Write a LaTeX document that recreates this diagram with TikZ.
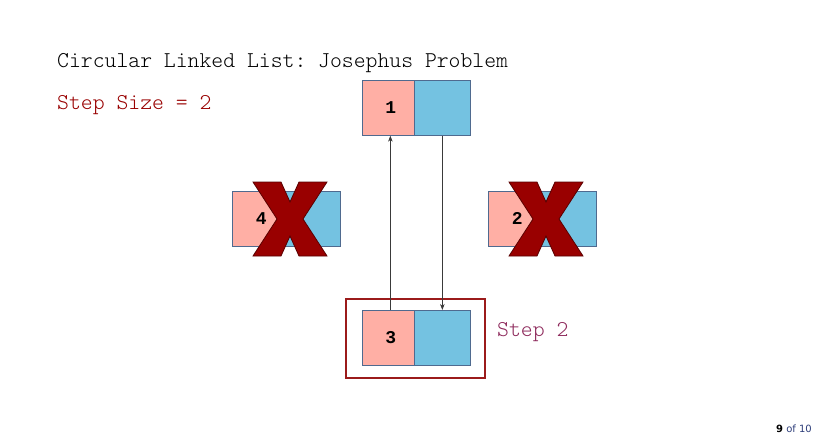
\documentclass[tikz,border=0pt]{standalone}
\usepackage{fontspec}
\usetikzlibrary{arrows.meta}
\setmonofont{Latin Modern Mono Light}
\newfontfamily\digitfont{Liberation Mono}
\newfontfamily\pgfont{DejaVu Sans}
\begin{document}
\begin{tikzpicture}[x=1pt,y=-1pt,
  pinkcell/.style={draw=cellborder,fill=cellpink,line width=0.7pt,minimum width=52pt,minimum height=55pt,inner sep=0pt,anchor=north west,font=\digitfont\bfseries\fontsize{18}{18}\selectfont},
  bluecell/.style={draw=cellborder,fill=cellblue,line width=0.7pt,minimum width=56pt,minimum height=55pt,inner sep=0pt,anchor=north west},
  link/.style={draw=linkgray,line width=0.6pt,-{Stealth[length=6pt,width=4.5pt]}},
  crossmark/.style={fill=xred,draw=xdark,line width=0.8pt},
  monotext/.style={font=\ttfamily\fontsize{22.6}{23}\selectfont,inner sep=0pt,anchor=base west}
]
\definecolor{cellpink}{HTML}{FFAFA5}
\definecolor{cellblue}{HTML}{74C2E1}
\definecolor{cellborder}{HTML}{4F6A8F}
\definecolor{linkgray}{HTML}{3A3A3A}
\definecolor{xred}{HTML}{990000}
\definecolor{xdark}{HTML}{5A0000}
\definecolor{boxred}{HTML}{9B1B1B}
\definecolor{stepred}{HTML}{990000}
\definecolor{steppurple}{HTML}{8E2A5C}
\definecolor{pageblue}{HTML}{2E3E7A}
\useasboundingbox (0,0) rectangle (817,440);
\fill[white] (0,0) rectangle (817,440);

% title and labels
\node[monotext,text=black] (title) at (57,67) {Circular Linked List: Josephus Problem};
\node[monotext,text=stepred] (stepsize) at (57,109) {Step Size = 2};
\node[monotext,text=steppurple] (steplabel) at (497,336) {Step 2};

% highlight box
\node[draw=boxred,line width=1.6pt,minimum width=139pt,minimum height=79pt,inner sep=0pt,anchor=north west] (hl) at (345,298) {};

% node 1
\node[pinkcell] (p1) at (362,80) {\hspace*{5pt}1};
\node[bluecell] (b1) at (414,80) {};
% node 3
\node[pinkcell] (p3) at (362,310) {\hspace*{5pt}3};
\node[bluecell] (b3) at (414,310) {};
% node 4
\node[pinkcell,minimum width=53pt] (p4) at (232,191) {\hspace*{5pt}4};
\node[bluecell,minimum width=55pt] (b4) at (285,191) {};
% node 2
\node[pinkcell,minimum width=53pt] (p2) at (488,191) {\hspace*{5pt}2};
\node[bluecell,minimum width=55pt] (b2) at (541,191) {};

% crosses
\foreach \cx/\nm in {290/x4,546/x2}{
  \coordinate (\nm) at (\cx,219);
  \filldraw[crossmark] ([shift={(-37,-37)}]\nm) -- ++(28,0) -- ([shift={(0,-17)}]\nm) -- ([shift={(9,-37)}]\nm) -- ++(28,0)
    -- ([shift={(13,0)}]\nm) -- ([shift={(37,37)}]\nm) -- ++(-28,0) -- ([shift={(0,17)}]\nm) -- ([shift={(-9,37)}]\nm)
    -- ++(-28,0) -- ([shift={(-13,0)}]\nm) -- cycle;
}

% links
\draw[link] ([xshift=2pt]p3.north) -- ([xshift=2pt]p1.south);
\draw[link] (b1.south) -- (b3.north);

% page number
\node[font=\pgfont\fontsize{10}{11}\selectfont,inner sep=0pt,anchor=base east] (pg) at (812,432) {\textbf{9} \textcolor{pageblue}{of 10}};
\end{tikzpicture}
\end{document}
